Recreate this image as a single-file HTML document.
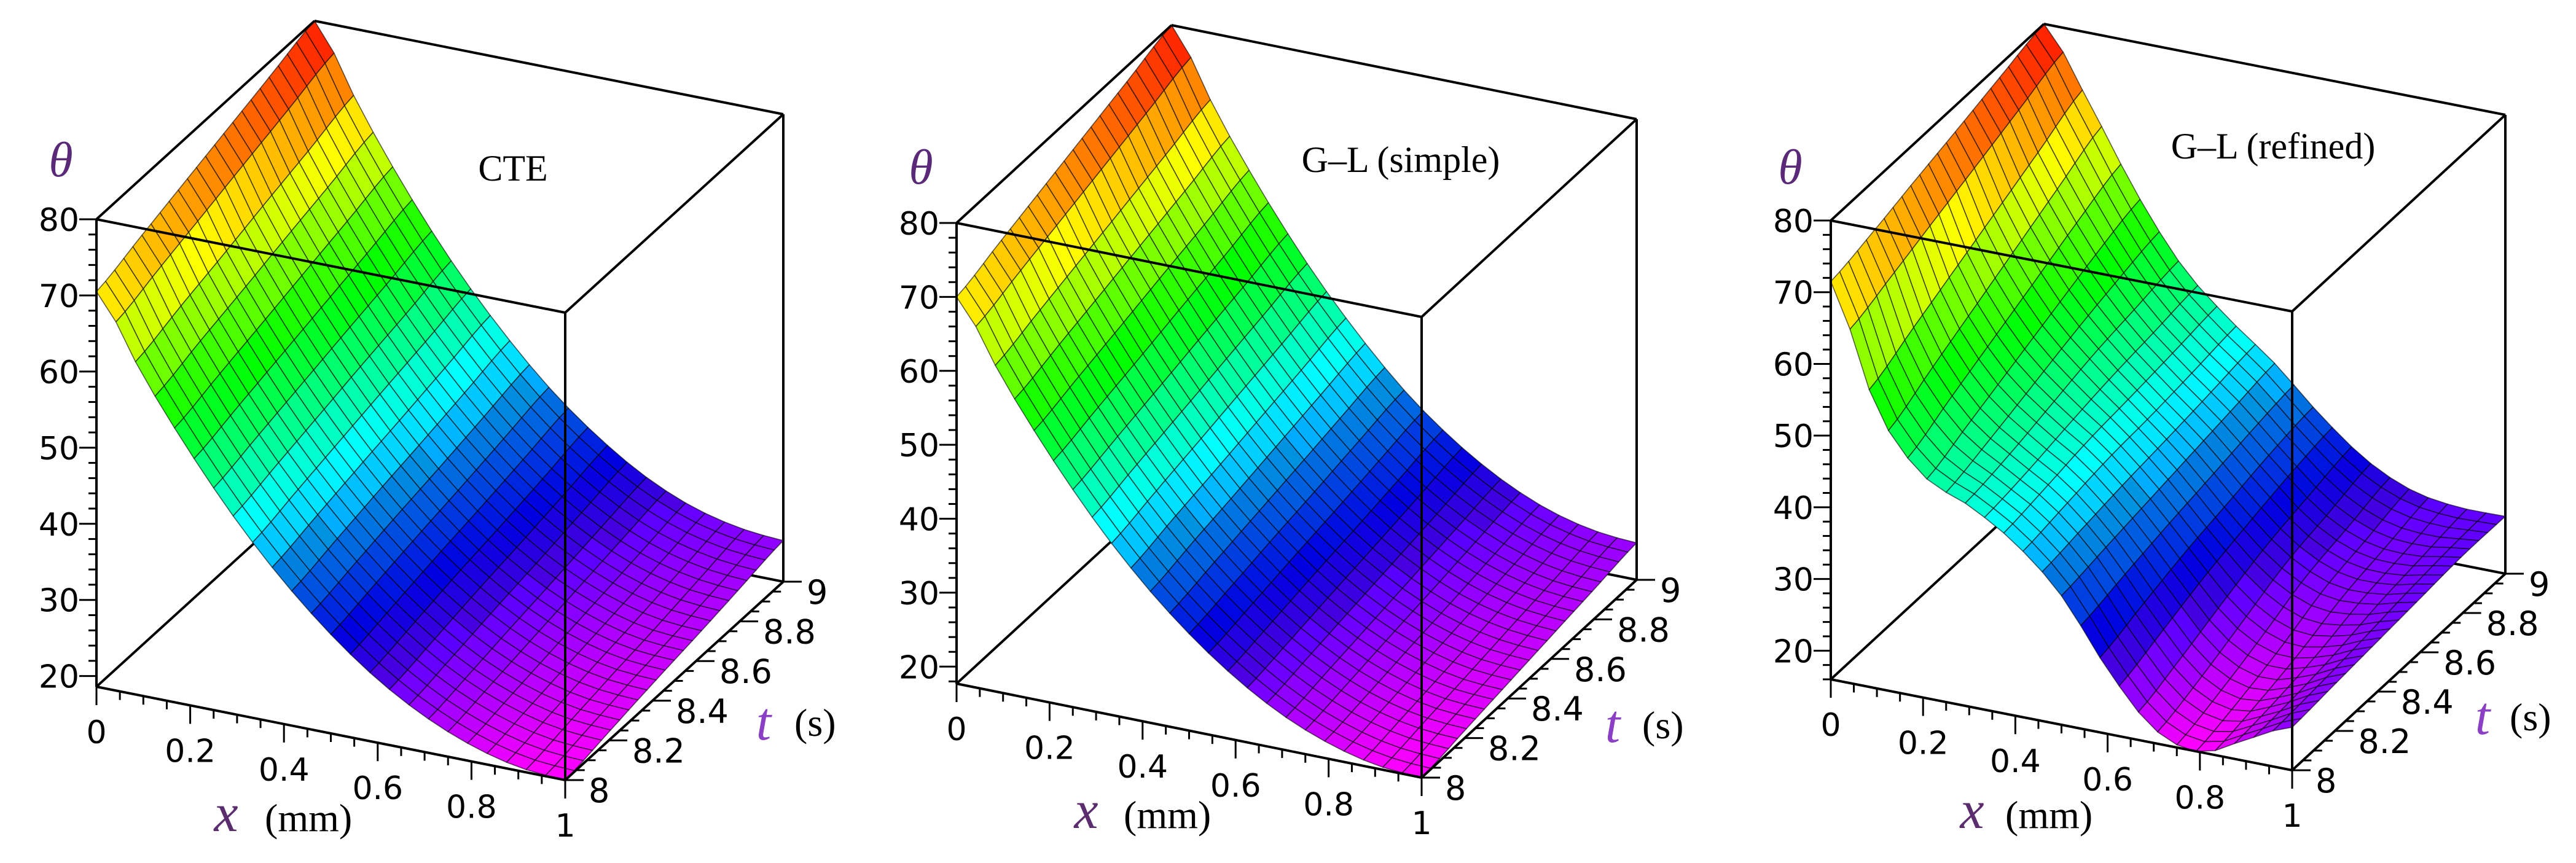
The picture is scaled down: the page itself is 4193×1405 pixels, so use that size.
<!DOCTYPE html>
<html><head><meta charset="utf-8"><style>
html,body{margin:0;padding:0;background:#fff;}
svg{display:block;}
</style></head><body>
<svg id="chart" width="4193" height="1405" viewBox="0 0 4193 1405" xmlns="http://www.w3.org/2000/svg"></svg>
<script>
// ---- data (theta values), x = 0..1 step 0.1, t = 8..9 step 0.2 ----
const xValues = [0,0.1,0.2,0.3,0.4,0.5,0.6,0.7,0.8,0.9,1];
const tValues = [8,8.2,8.4,8.6,8.8,9];
const cteTheta = [
 [70.5,60.6,51.8,44.0,37.3,31.6,26.9,23.3,20.7,19.1,18.6],
 [72.4,62.4,53.4,45.5,38.7,32.9,28.1,24.4,21.8,20.2,19.7],
 [74.3,64.1,55.0,47.0,40.1,34.2,29.4,25.6,22.9,21.3,20.8],
 [76.2,65.9,56.6,48.5,41.4,35.4,30.5,26.7,24.0,22.3,21.8],
 [78.1,67.6,58.2,49.9,42.8,36.7,31.7,27.9,25.1,23.5,22.9],
 [80.0,69.4,59.8,51.4,44.2,38.0,33.0,29.0,26.2,24.6,24.0]];
const glSimpleTheta = [
 [70,60.1,51.2,43.3,36.5,30.8,26.1,22.4,19.8,18.2,17.7],
 [72,61.9,52.8,44.8,37.9,32.0,27.2,23.5,20.8,19.2,18.7],
 [74,63.7,54.4,46.3,39.2,33.3,28.4,24.6,21.9,20.2,19.7],
 [76,65.5,56.1,47.8,40.6,34.5,29.5,25.7,22.9,21.3,20.7],
 [78,67.3,57.7,49.3,42.0,35.8,30.7,26.8,24.0,22.3,21.7],
 [80,69.1,59.4,50.8,43.4,37.0,31.9,27.9,25.0,23.3,22.7]];
const glRefinedTheta = [
 [71.5,55,47,44,40,34,25,18,16,19,22],
 [73,58,49.5,45,41,35,27,20,17.5,19.5,22.5],
 [74.8,61,52,46.5,42,36,29,22.5,19.5,20.5,23],
 [76.5,64,54.5,48,42.5,37,30.5,25,22,22,23.5],
 [78.3,67,57,49,43.2,38,32,26.5,23.5,23,24],
 [80,70,59,50,44,39,33,28,25,24,24]];
const zTickLabels = [20,30,40,50,60,70,80];
const xTickLabels = [0,0.2,0.4,0.6,0.8,1];
const tTickLabels = [8,8.2,8.4,8.6,8.8,9];
const panelTitles = ["CTE","G–L (simple)","G–L (refined)"];

const panels = [
 {name:"cte", data:cteTheta, O:[157,1118], ex:[763,152], et:[355,-323], zmin:18.6, zmax:80,
  title:[835,274], theta:[99,262], xl:[368,1333], mm:431, tl:[1243,1176], s:1293},
 {name:"gl-simple", data:glSimpleTheta, O:[1557,1113], ex:[757,153], et:[350,-322], zmin:17.7, zmax:80,
  title:[2280,260], theta:[1499,274], xl:[1768,1328], mm:1829, tl:[2625,1180], s:2673},
 {name:"gl-refined", data:glRefinedTheta, O:[2980,1106], ex:[751,148], et:[347,-320], zmin:16, zmax:80,
  title:[3700,238], theta:[2914,274], xl:[3210,1328], mm:3264, tl:[4041,1167], s:4085}
];

const NS="http://www.w3.org/2000/svg";
const svg=document.getElementById('chart');
function mk(tag,attrs,parent){const e=document.createElementNS(NS,tag);for(const k in attrs)e.setAttribute(k,attrs[k]);(parent||svg).appendChild(e);return e;}

function cr(p0,p1,p2,p3,u){return 0.5*((2*p1)+(-p0+p2)*u+(2*p0-5*p1+4*p2-p3)*u*u+(-p0+3*p1-3*p2+p3)*u*u*u);}
function sample1(arr,f){const n=arr.length-1;let s=f*n;let i=Math.min(Math.floor(s),n-1);const u=s-i;
 const g=k=>arr[Math.max(0,Math.min(n,k))];return cr(g(i-1),g(i),g(i+1),g(i+2),u);}
function sampleSurf(data,fx,ft){const rows=data.map(r=>sample1(r,fx));return sample1(rows,ft);}

panels.forEach((P,pi)=>{
 const g=mk('g',{},svg);
 
 
 const zscale=[ (1118-357)/(80-18.6), (1113-363)/(80-17.7), (1106-359)/(80-16)][pi];
 const proj=(fx,ft,z)=>[P.O[0]+fx*P.ex[0]+ft*P.et[0], P.O[1]+fx*P.ex[1]+ft*P.et[1]-(z-P.zmin)*zscale];
 const tmin=tValues[0], tmax=tValues[tValues.length-1];
 const ftOf=t=>(t-tmin)/(tmax-tmin);
 const line=(a,b,name,w)=>{const l=mk('line',{x1:a[0],y1:a[1],x2:b[0],y2:b[1],stroke:'#000','stroke-width':w||4},g);
   return l;};
 const Z=P.zmax,m=P.zmin;
 line(proj(0,0,m),proj(0,1,m),'box-edge-bottom-left');
 line(proj(0,1,m),proj(1,1,m),'box-edge-bottom-back');
 line(proj(0,1,m),proj(0,1,Z),'box-edge-back-left');
 line(proj(1,1,m),proj(1,1,Z),'box-edge-back-right');
 const N=24;
 const surf=mk('g',{},g);
 
 
 const zAt=(i,j)=>sampleSurf(P.data,i/N,j/N);
 const grid=[];for(let j=0;j<=N;j++){grid.push([]);for(let i=0;i<=N;i++)grid[j].push(zAt(i,j));}
 for(let j=N-1;j>=0;j--){for(let i=0;i<N;i++){
   const pts=[[i,j],[i+1,j],[i+1,j+1],[i,j+1]].map(([a,b])=>proj(a/N,b/N,grid[b][a]));
   const zc=(grid[j][i]+grid[j][i+1]+grid[j+1][i]+grid[j+1][i+1])/4;
   let h=300*(P.zmax-zc)/(P.zmax-P.zmin);h=Math.max(0,Math.min(300,h));
   const light=h>200&&h<260?44:50;
   const poly=mk('polygon',{points:pts.map(p=>p[0].toFixed(1)+','+p[1].toFixed(1)).join(' '),
     fill:`hsl(${h.toFixed(1)},100%,${light}%)`,stroke:'#000','stroke-width':1.6,'stroke-opacity':0.6,'stroke-linejoin':'round'},surf);
   
   
 }}
 line(proj(0,0,m),proj(0,0,Z),'z-axis-line');
 line(proj(0,0,m),proj(1,0,m),'x-axis-line');
 line(proj(1,0,m),proj(1,1,m),'t-axis-line');
 line(proj(1,0,m),proj(1,0,Z),'box-edge-front-right');
 line(proj(0,0,Z),proj(1,0,Z),'box-edge-front-top');
 line(proj(0,0,Z),proj(0,1,Z),'box-edge-top-left');
 line(proj(0,1,Z),proj(1,1,Z),'box-edge-top-back');
 line(proj(1,1,Z),proj(1,0,Z),'box-edge-top-right');
 const tickFont='"DejaVu Sans","Liberation Sans",sans-serif';
 const txt=(x,y,s,attrs,name)=>{const t=mk('text',Object.assign({x:x,y:y},attrs),g);t.textContent=s;
   return t;};
 for(let v=Math.ceil(P.zmin/2)*2;v<=P.zmax;v+=2){const p=proj(0,0,v);const major=v%10===0;
   line(p,[p[0]-(major?28:13),p[1]],'z-tick',3);}
 zTickLabels.forEach(v=>{const p=proj(0,0,v);
   txt(p[0]-28,p[1]+19,String(v),{'font-family':tickFont,'font-size':52,'text-anchor':'end',fill:'#000'},'z-tick-label');});
 for(let k=0;k<=20;k++){const fx=k/20;const p=proj(fx,0,m);const major=k%4===0;
   line(p,[p[0],p[1]+(major?30:14)],'x-tick',3);}
 xTickLabels.forEach(v=>{const p=proj(v,0,m);
   txt(p[0],p[1]+92,String(v),{'font-family':tickFont,'font-size':52,'text-anchor':'middle',fill:'#000'},'x-tick-label');});
 for(let k=0;k<=20;k++){const ft=k/20;const p=proj(1,ft,m);const major=k%4===0;
   line(p,[p[0]+(major?30:14),p[1]],'t-tick',3);}
 tTickLabels.forEach(v=>{const p=proj(1,ftOf(v),m);
   txt(p[0]+38,p[1]+36,String(v),{'font-family':tickFont,'font-size':54,'text-anchor':'start',fill:'#000'},'t-tick-label');});
 const serif='"Liberation Serif","DejaVu Serif",serif';
 txt(P.title[0],P.title[1]+20,panelTitles[pi],{'font-family':serif,'font-size':60,'text-anchor':'middle',fill:'#000'},'panel-title');
 txt(P.theta[0],P.theta[1]+25,'θ',{'font-family':serif,'font-size':80,'font-style':'italic','text-anchor':'middle',fill:'#5a2a78'},'z-axis-title');
 txt(P.xl[0],P.xl[1]+20,'x',{'font-family':serif,'font-size':88,'font-style':'italic','text-anchor':'middle',fill:'#5b2d6e'},'x-axis-title');
 txt(P.mm,P.xl[1]+20,'(mm)',{'font-family':serif,'font-size':64,fill:'#000'},'x-axis-unit');
 txt(P.tl[0],P.tl[1]+28,'t',{'font-family':serif,'font-size':88,'font-style':'italic','text-anchor':'middle',fill:'#8a3fc4'},'t-axis-title');
 txt(P.s,P.tl[1]+22,'(s)',{'font-family':serif,'font-size':64,fill:'#000'},'t-axis-unit');
});
</script>
</body></html>
